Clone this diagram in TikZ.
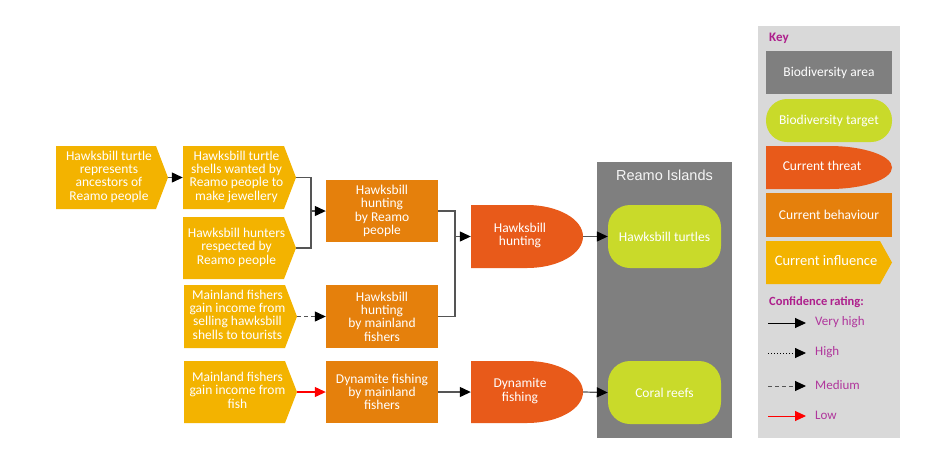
\documentclass[tikz,border=0pt]{standalone}
\usepackage{fontspec}
\setmainfont{Carlito}
\newfontfamily\arialf{Liberation Sans}
\usetikzlibrary{arrows.meta,calc}
\definecolor{inflc}{HTML}{F3B300}
\definecolor{behc}{HTML}{E5800C}
\definecolor{thrc}{HTML}{E85A1A}
\definecolor{tgtc}{HTML}{C9DA2A}
\definecolor{areac}{HTML}{7F7F7F}
\definecolor{keyc}{HTML}{D9D9D9}
\definecolor{magc}{HTML}{AE1F8C}
\definecolor{magl}{HTML}{B0369C}
\definecolor{linec}{HTML}{555555}
\newcommand\bxf{\fontsize{13.5}{13.3}\selectfont}
\newcommand\shl[1]{\begin{tabular}{@{}c@{\hspace{14pt}}}#1\end{tabular}}
\newcommand\shi[1]{\begin{tabular}{@{}c@{\hspace{6pt}}}#1\end{tabular}}
\begin{document}
\begin{tikzpicture}[x=1pt,y=-1pt,
  box/.style={inner sep=0pt, text=white, font=\bxf, align=center},
  infl/.style 2 args={box, minimum width=#1, minimum height=#2,
    path picture={\fill[inflc] (path picture bounding box.north west)
      -- ([xshift=-12pt]path picture bounding box.north east)
      -- (path picture bounding box.east)
      -- ([xshift=-12pt]path picture bounding box.south east)
      -- (path picture bounding box.south west) -- cycle;}},
  thr/.style 2 args={box, minimum width=#1, minimum height=#2,
    path picture={\fill[thrc] (path picture bounding box.north west)
      -- (path picture bounding box.north)
      arc[start angle=90, end angle=-90, x radius=#1/2, y radius=#2/2]
      -- (path picture bounding box.south west) -- cycle;}},
  beh/.style 2 args={box, minimum width=#1, minimum height=#2, fill=behc},
  tgt/.style 2 args={box, minimum width=#1, minimum height=#2, fill=tgtc, rounded corners=22pt},
  areabox/.style 2 args={box, minimum width=#1, minimum height=#2, fill=areac},
  ln/.style={draw=linec, line width=1.2pt},
  arr/.style={ln, -{Triangle[length=11pt,width=10pt,color=black]}},
  medarr/.style={arr, dash pattern=on 4pt off 3pt},
  hiarr/.style={arr, draw=black, line width=0.9pt, dash pattern=on 1pt off 2pt},
  lowarr/.style={ln, draw=red, -{Triangle[length=11pt,width=10pt,color=red]}},
  lgt/.style={anchor=west, inner sep=0pt, text=magl, font=\fontsize{13}{14}\selectfont},
  hdr/.style={anchor=west, inner sep=0pt, text=magc, font=\bfseries\fontsize{12.5}{14}\selectfont}
]
\useasboundingbox (0,0) rectangle (941,451);

% key panel
\node[box, minimum width=142pt, minimum height=412pt, fill=keyc] (keypanel) at (829,232) {};

% Reamo Islands area
\node[areabox={135pt}{276pt}] (area) at (664.5,300) {};
\node[inner sep=0pt, text=white!93!gray, font=\arialf\fontsize{14.5}{16}\selectfont] (areat) at (664.5,175) {Reamo Islands};

% influences
\node[infl={112pt}{63pt}] (i1) at (112,177.5) {\shi{Hawksbill turtle\\represents\\ancestors of\\Reamo people}};
\node[infl={113pt}{63pt}] (i2) at (239.5,177.5) {\shi{Hawksbill turtle\\shells wanted by\\Reamo people to\\make jewellery}};
\node[infl={113pt}{62pt}] (i3) at (239.5,248) {\shi{Hawksbill hunters\\respected by\\Reamo people}};
\node[infl={113pt}{63pt}] (i4) at (240.5,316.5) {\shi{Mainland fishers\\gain income from\\selling hawksbill\\shells to tourists}};
\node[infl={113pt}{62pt}] (i5) at (240.5,392) {\shi{Mainland fishers\\gain income from\\fish}};

% behaviours
\node[beh={112pt}{62pt}] (b1) at (382,211) {Hawksbill\\hunting\\by Reamo\\people};
\node[beh={112pt}{63pt}] (b2) at (382,316.5) {Hawksbill\\hunting\\by mainland\\fishers};
\node[beh={112pt}{62pt}] (b3) at (382,392) {Dynamite fishing\\by mainland\\fishers};

% threats
\node[thr={112pt}{63pt}] (t1) at (527,236.5) {\shl{Hawksbill\\hunting}};
\node[thr={112pt}{62pt}] (t2) at (527,392) {\shl{Dynamite\\fishing}};

% targets
\node[tgt={113pt}{63pt}] (g1) at (664.5,236.5) {Hawksbill turtles};
\node[tgt={113pt}{63pt}] (g2) at (664.5,392.5) {Coral reefs};

% connectors
\coordinate (j1) at (311,211);
\coordinate (j2) at (455,236.5);
\draw[arr] (i1.east) -- (i2.west);
\draw[ln] (i2.east) -| (j1) |- (i3.east);
\draw[arr] (j1) -- (b1.west);
\draw[ln] (b1.east) -| (j2) |- (b2.east);
\draw[arr] (j2) -- (t1.west);
\draw[medarr] (i4.east) -- (b2.west);
\draw[lowarr] (i5.east) -- (b3.west);
\draw[arr] (b3.east) -- (t2.west);
\draw[arr] (t1.east) -- (g1.west);
\draw[arr] (t2.east) -- (g2.west);

% key
\node[hdr, font=\bfseries\fontsize{13}{14}\selectfont] (keyh) at (769,38) {Key};
\node[areabox={126pt}{43pt}] (ka) at (829,72.5) {Biodiversity area};
\node[tgt={126pt}{43pt}, rounded corners=21pt] (kt) at (829,120.5) {Biodiversity target};
\node[thr={126pt}{43pt}] (kth) at (829,167.5) {\shl{Current threat}};
\node[beh={126pt}{44pt}] (kb) at (829,215) {Current behaviour};
\node[infl={126pt}{43pt}, font=\fontsize{14.5}{15}\selectfont] (ki) at (829,262.5) {\shi{Current influence}};

\node[hdr] (confh) at (769,302) {Confidence rating:};
\coordinate (l1a) at (768,323); \coordinate (l1b) at (806,323);
\coordinate (l2a) at (768,353); \coordinate (l2b) at (806,353);
\coordinate (l3a) at (768,386); \coordinate (l3b) at (806,386);
\coordinate (l4a) at (768,416); \coordinate (l4b) at (806,416);
\draw[arr, draw=black, line width=1pt] (l1a) -- (l1b);
\draw[hiarr] (l2a) -- (l2b);
\draw[medarr, line width=1pt] (l3a) -- (l3b);
\draw[lowarr, line width=1pt] (l4a) -- (l4b);
\node[lgt] (l1t) at (815,322) {Very high};
\node[lgt] (l2t) at (815,352) {High};
\node[lgt] (l3t) at (815,385) {Medium};
\node[lgt] (l4t) at (815,415) {Low};
\end{tikzpicture}
\end{document}
